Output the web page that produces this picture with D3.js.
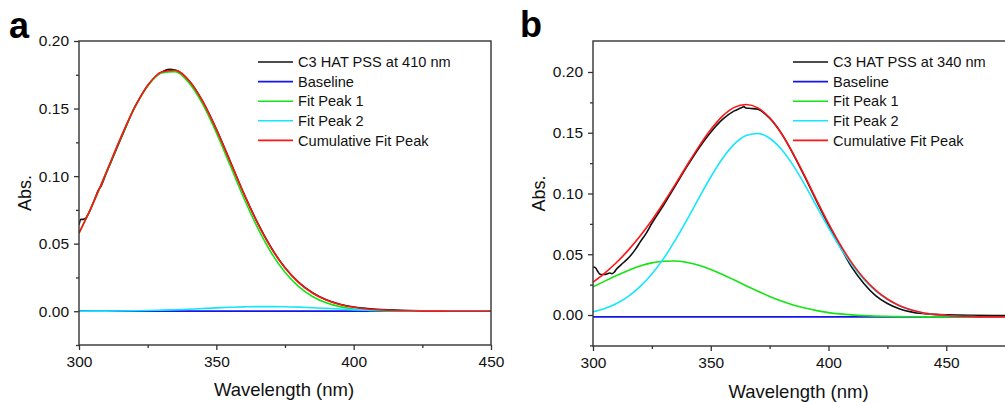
<!DOCTYPE html>
<html>
<head>
<meta charset="utf-8">
<script src="https://cdn.jsdelivr.net/npm/d3@7"></script>
<style>
  body { margin: 0; background: #fff; }
  svg { display: block; font-family: "Liberation Sans", Arial, sans-serif; }
</style>
</head>
<body>
<svg id="chart"></svg>
<script>
var w = 1005;
var h = 402;

// series names / legend labels
var legendA = ["C3 HAT PSS at 410 nm", "Baseline", "Fit Peak 1", "Fit Peak 2", "Cumulative Fit Peak"];
var legendB = ["C3 HAT PSS at 340 nm", "Baseline", "Fit Peak 1", "Fit Peak 2", "Cumulative Fit Peak"];
var colors = ["#111111", "#1414ee", "#14e414", "#14e6ff", "#ff1414"];

var xTicks = [300, 350, 400, 450];
var xMinor = [325, 375, 425];
var yTicks = [0, 0.05, 0.10, 0.15, 0.20];
var yMinor = [-0.025, 0.025, 0.075, 0.125, 0.175];

// ---- panel a ----
var fitWaveA = [300,305,310,315,320,325,330,335,340,345,350,355,360,365,370,375,380,385,390,395,400,405,410,415,420,425,430,435,440,445,450];
var peak1A = [0.0578,0.0792,0.1031,0.1274,0.1495,0.1666,0.1763,0.1773,0.1692,0.1534,0.1321,0.1080,0.0838,0.0618,0.0433,0.0288,0.0182,0.0109,0.0062,0.0034,0.0017,0.0008,0.0004,0.0002,0.0001,0,0,0,0,0,0];
var peak2A = [0.00003,0.00005,0.0001,0.0002,0.0003,0.0005,0.0008,0.0011,0.0015,0.0020,0.0025,0.0029,0.0032,0.0034,0.0034,0.0033,0.0030,0.0026,0.0021,0.0016,0.0012,0.0008,0.0005,0.0003,0.0002,0.0001,0.00006,0.00003,0,0,0];
var cumA = [0.0578,0.0793,0.1032,0.1276,0.1498,0.1671,0.1771,0.1784,0.1707,0.1554,0.1346,0.1109,0.0870,0.0652,0.0467,0.0321,0.0212,0.0135,0.0083,0.0050,0.0029,0.0016,0.0009,0.0005,0.0003,0.0001,0.0001,0,0,0,0];
var baseWaveA = [300, 450];
var baseA = [0, 0];
var dataWaveA = [300,300.7,301.5,302.5,304,305,306,307,308,310,312.5,315,317.5,320,322.5,325,330,333,335,340,345,350,355,360,365,370,375,380,385,390,395,400,405,410,415,420,425,430,440,450];
var dataA = [0.064,0.068,0.068,0.069,0.0745,0.0795,0.0845,0.0895,0.0925,0.1025,0.1145,0.1265,0.1385,0.1500,0.1590,0.1670,0.1768,0.1790,0.1785,0.1708,0.1555,0.1348,0.1112,0.0872,0.0655,0.0470,0.0322,0.0214,0.0137,0.0085,0.0052,0.0031,0.0020,0.0013,0.0008,0.0005,0.0003,0.0002,0.0001,0];

// ---- panel b ----
var fitWaveB = [300,305,310,315,320,325,330,335,340,345,350,355,360,365,370,375,380,385,390,395,400,405,410,415,420,425,430,435,440,445,450,455,460,465,470,475,480,485,490,495,500];
var peak1B = [0.0232,0.0279,0.0325,0.0367,0.0403,0.0429,0.0443,0.0444,0.0432,0.0409,0.0375,0.0334,0.0288,0.0241,0.0196,0.0153,0.0115,0.0083,0.0057,0.0036,0.0020,0.0009,0.0001,-0.0005,-0.0009,-0.0011,-0.0013,-0.0014,-0.0015,-0.0015,-0.0015,-0.0015,-0.0015,-0.0015,-0.0015,-0.0015,-0.0015,-0.0015,-0.0015,-0.0015,-0.0015];
var peak2B = [0.0027,0.0054,0.0095,0.0154,0.0233,0.0337,0.0466,0.0618,0.0787,0.0964,0.1136,0.1288,0.1406,0.1477,0.1494,0.1455,0.1364,0.1231,0.1069,0.0893,0.0718,0.0555,0.0412,0.0293,0.0199,0.0128,0.0077,0.0042,0.0019,0.0005,-0.0004,-0.0010,-0.0013,-0.0015,-0.0015,-0.0015,-0.0015,-0.0015,-0.0015,-0.0015,-0.0015];
var cumB = [0.0270,0.0345,0.0432,0.0534,0.0650,0.0780,0.0924,0.1077,0.1235,0.1388,0.1526,0.1637,0.1709,0.1733,0.1705,0.1623,0.1494,0.1329,0.1141,0.0944,0.0754,0.0579,0.0427,0.0303,0.0205,0.0132,0.0079,0.0043,0.0019,0.0005,-0.0004,-0.0010,-0.0013,-0.0015,-0.0015,-0.0015,-0.0015,-0.0015,-0.0015,-0.0015,-0.0015];
var baseWaveB = [300, 500];
var baseB = [-0.0015, -0.0015];
var dataWaveB = [300,301,302,303,304,305,306,307,308,309,310,312,314,316,318,320,322.5,325,330,335,340,345,350,355,360,363,364,365,367,370,375,380,385,390,395,400,405,410,415,420,425,430,435,440,445,450,460,470,480,490,500];
var dataB = [0.0395,0.0390,0.0360,0.0335,0.0333,0.0333,0.0338,0.0346,0.0340,0.0352,0.0378,0.0415,0.0450,0.0490,0.0540,0.0600,0.0670,0.0755,0.0905,0.1065,0.1225,0.1375,0.1505,0.1610,0.1680,0.1705,0.1715,0.1703,0.1700,0.1693,0.1620,0.1495,0.1325,0.1135,0.0935,0.0740,0.0560,0.0390,0.0260,0.0160,0.0095,0.0052,0.0026,0.0012,0.0005,0.0001,-0.0003,-0.0004,-0.0004,-0.0004,-0.0004];

var svg = d3.select("#chart")
    .attr("width", w)
    .attr("height", h);

drawPanel({
  id: "a",
  left: 79, right: 491, top: 41, bottom: 345,
  xDomain: [300, 450],
  yDomain: [-0.025, 0.20],
  labelX: 9, labelY: 38,
  titleY: 396,
  legend: legendA,
  series: [
    [dataWaveA, dataA],
    [baseWaveA, baseA],
    [fitWaveA, peak1A],
    [fitWaveA, peak2A],
    [fitWaveA, cumA]
  ]
});

drawPanel({
  id: "b",
  left: 593, right: 1064, top: 41, bottom: 346,
  xDomain: [300, 500],
  yDomain: [-0.0255, 0.2255],
  labelX: 520, labelY: 37,
  titleY: 397.5,
  legend: legendB,
  series: [
    [dataWaveB, dataB],
    [baseWaveB, baseB],
    [fitWaveB, peak1B],
    [fitWaveB, peak2B],
    [fitWaveB, cumB]
  ]
});

function drawPanel(p) {
  var x = d3.scaleLinear().domain(p.xDomain).range([p.left, p.right]);
  var y = d3.scaleLinear().domain(p.yDomain).range([p.bottom, p.top]);
  var g = svg.append("g").attr("class", "panel-" + p.id);

  g.append("clipPath").attr("id", "clip-" + p.id)
    .append("rect")
    .attr("x", p.left).attr("y", p.top)
    .attr("width", p.right - p.left).attr("height", p.bottom - p.top);

  var line = d3.line()
      .x(d => x(d[0]))
      .y(d => y(d[1]))
      .curve(d3.curveMonotoneX);

  var plot = g.append("g").attr("clip-path", "url(#clip-" + p.id + ")");
  p.series.forEach(function (s, i) {
    var pts = s[0].map((v, j) => [v, s[1][j]]);
    plot.append("path")
        .datum(pts)
        .attr("d", line)
        .attr("fill", "none")
        .attr("stroke", colors[i])
        .attr("stroke-width", i == 1 ? 1.8 : 1.6);
  });

  // axes
  var xAxis = g.append("g").attr("transform", "translate(0," + p.bottom + ")")
      .call(d3.axisBottom(x).tickValues(xTicks).tickSize(5).tickPadding(6).tickFormat(d3.format("d")));
  var xAxisMinor = g.append("g").attr("transform", "translate(0," + p.bottom + ")")
      .call(d3.axisBottom(x).tickValues(xMinor).tickSize(3).tickFormat(""));
  var yAxis = g.append("g").attr("transform", "translate(" + p.left + ",0)")
      .call(d3.axisLeft(y).tickValues(yTicks).tickSize(5).tickPadding(5).tickFormat(d3.format(".2f")));
  var yAxisMinor = g.append("g").attr("transform", "translate(" + p.left + ",0)")
      .call(d3.axisLeft(y).tickValues(yMinor).tickSize(3).tickFormat(""));

  [xAxis, xAxisMinor, yAxis, yAxisMinor].forEach(function (a) {
    a.select(".domain").remove();
    a.selectAll("line").attr("stroke", "#333").attr("stroke-width", 1.3);
    a.selectAll("text").attr("fill", "#111").style("font-size", "15.5px")
      .style("font-family", '"Liberation Sans", Arial, sans-serif');
  });

  // frame
  g.append("rect")
      .attr("x", p.left).attr("y", p.top)
      .attr("width", p.right - p.left).attr("height", p.bottom - p.top)
      .attr("fill", "none")
      .attr("stroke", "#333")
      .attr("stroke-width", 1.4);

  // axis titles
  g.append("text")
      .attr("x", (p.left + p.right) / 2 + (p.id == "b" ? -30 : -1))
      .attr("y", p.titleY)
      .attr("text-anchor", "middle")
      .style("font-size", "18.5px")
      .attr("fill", "#111")
      .text("Wavelength (nm)");

  g.append("text")
      .attr("transform", "translate(" + (p.left - 48) + "," + ((p.top + p.bottom) / 2) + ") rotate(-90)")
      .attr("text-anchor", "middle")
      .style("font-size", "18px")
      .attr("fill", "#111")
      .text("Abs.");

  // panel letter
  g.append("text")
      .attr("x", p.labelX).attr("y", p.labelY)
      .style("font-size", "36px")
      .style("font-weight", "bold")
      .attr("fill", "#000")
      .text(p.id);

  // legend
  var lx = p.id == "a" ? 258 : 793;
  var leg = g.append("g");
  p.legend.forEach(function (name, i) {
    var ly = 62 + i * 19.6;
    leg.append("line")
        .attr("x1", lx).attr("x2", lx + 35)
        .attr("y1", ly).attr("y2", ly)
        .attr("stroke", colors[i])
        .attr("stroke-width", 1.6);
    leg.append("text")
        .attr("x", lx + 40).attr("y", ly)
        .attr("dy", "0.35em")
        .style("font-size", "14.6px")
        .attr("fill", "#111")
        .text(name);
  });
}
</script>
</body>
</html>
